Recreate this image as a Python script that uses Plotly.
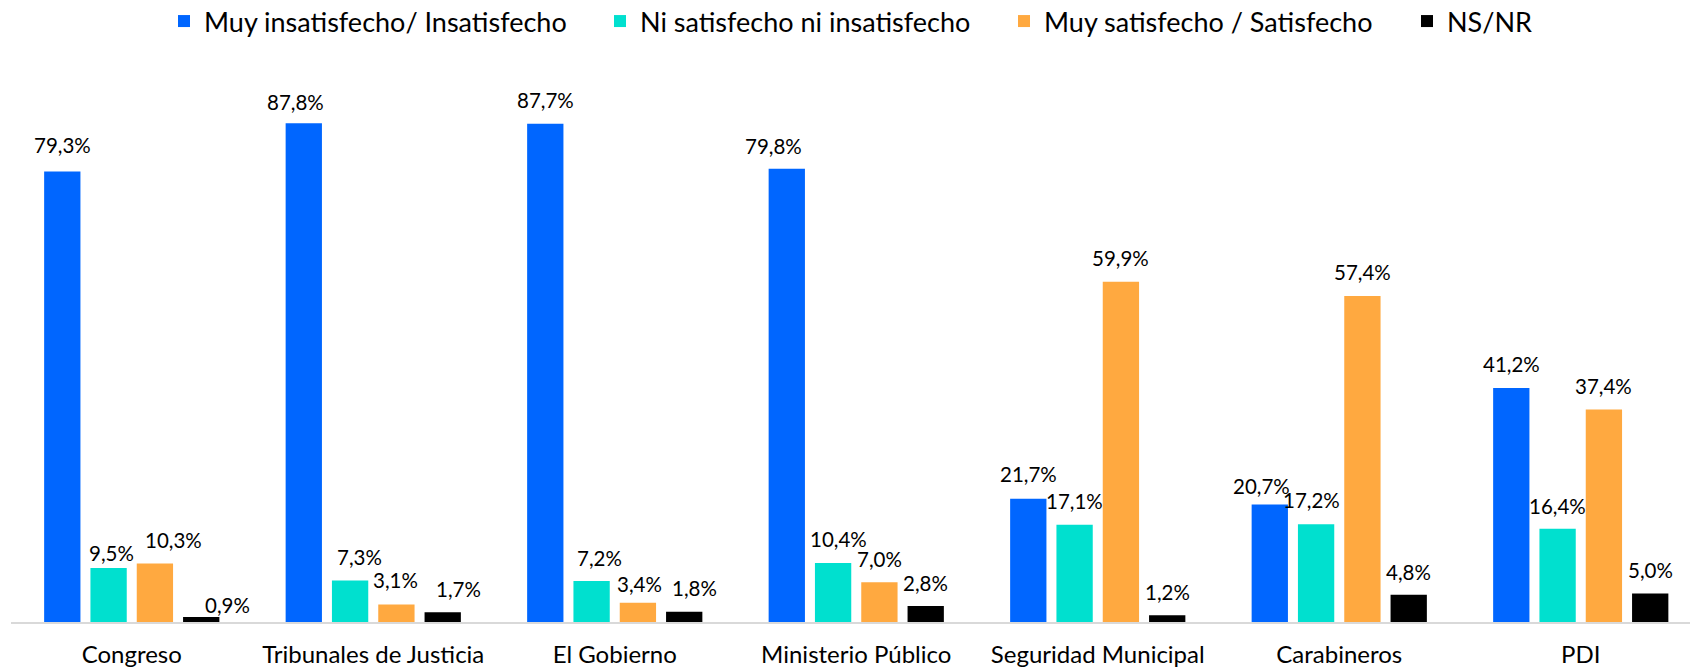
import plotly.graph_objects as go

# ---------------- data ----------------
categories = ["Congreso", "Tribunales de Justicia", "El Gobierno", "Ministerio Público",
              "Seguridad Municipal", "Carabineros", "PDI"]
series_names = ["Muy insatisfecho/ Insatisfecho", "Ni satisfecho ni insatisfecho",
                "Muy satisfecho / Satisfecho", "NS/NR"]
insatisfecho = [79.3, 87.8, 87.7, 79.8, 21.7, 20.7, 41.2]
ni_ni = [9.5, 7.3, 7.2, 10.4, 17.1, 17.2, 16.4]
satisfecho = [10.3, 3.1, 3.4, 7.0, 59.9, 57.4, 37.4]
ns_nr = [0.9, 1.7, 1.8, 2.8, 1.2, 4.8, 5.0]
series_values = [insatisfecho, ni_ni, satisfecho, ns_nr]

# ---------------- style ----------------
colors = ["#0066FF", "#00E0CF", "#FFA940", "#000000"]
FONT = "Lato"
W, H = 1690, 667
BARGAP = 0.233
BARGROUPGAP = 0.216
LABEL_LIFT = 23.5

# manual label nudges (px) per series / category: (dx, dy)
nudges = [
    [(0, 3.5), (-8.7, -2), (0, 0), (-13.7, -0.5), (0, 0.8), (-8, -5), (0, 0)],
    [(2.4, -8.5), (9, 0), (7.7, 0), (5, 0), (0, 0.5), (-5, 0.5), (0, -1)],
    [(18.7, 0), (-1, 1), (2, -4.5), (0, 0), (0, 0), (0, 0), (0, 0)],
    [(26, -11.5), (15.5, 0), (10.7, 0), (0, 0), (0, 0), (0, -1), (0, 0)],
]

# legend left edges in px (container coordinates)
legend_px = [164, 600, 1004, 1407]
legend_names = ["legend", "legend2", "legend3", "legend4"]

fig = go.Figure()
for i, (name, vals) in enumerate(zip(series_names, series_values)):
    fig.add_trace(go.Bar(
        x=categories, y=vals, name=name,
        marker=dict(color=colors[i], line=dict(width=0)),
        legend=legend_names[i],
        hoverinfo="skip",
    ))

def fmt(v):
    return f"{v:.1f}".replace(".", ",") + "%"

slot = (1 - BARGAP) / 4
for i, vals in enumerate(series_values):
    for j, v in enumerate(vals):
        dx, dy = nudges[i][j]
        fig.add_annotation(
            x=j + (i - 1.5) * slot, y=v, xref="x", yref="y",
            text=fmt(v), showarrow=False,
            xanchor="center", yanchor="middle",
            xshift=dx, yshift=LABEL_LIFT + dy,
            font=dict(family=FONT, size=20.5, color="#000000"),
        )

layout_legends = {}
for k, lname in enumerate(legend_names):
    layout_legends[lname] = dict(
        xref="container", yref="container",
        x=legend_px[k] / W, y=1 - 21.5 / H,
        xanchor="left", yanchor="middle",
        orientation="h", bgcolor="rgba(0,0,0,0)", borderwidth=0,
        font=dict(family=FONT, size=27, color="#000000"),
    )

fig.update_layout(
    width=W, height=H,
    margin=dict(l=11, r=0, t=54, b=45, pad=0, autoexpand=False),
    paper_bgcolor="white", plot_bgcolor="white",
    barmode="group", bargap=BARGAP, bargroupgap=BARGROUPGAP,
    showlegend=True,
    font=dict(family=FONT, size=20, color="#000000"),
    **layout_legends,
)
fig.update_xaxes(
    type="category",
    range=[-0.5, -0.5 + (W - 11) / 241.5],
    showline=True, linecolor="#D9D9D9", linewidth=2,
    showgrid=False, zeroline=False, ticks="",
    tickfont=dict(family=FONT, size=24, color="#000000"),
    ticklabelstandoff=10,
    automargin=False,
    fixedrange=True,
)
fig.update_yaxes(
    range=[0, 100], visible=False, showgrid=False, zeroline=False,
    automargin=False, fixedrange=True,
)

fig.write_html(
    "out.html",
    config={"displayModeBar": False},
    post_script="document.body.style.margin='0px';document.body.style.overflow='hidden';",
)
